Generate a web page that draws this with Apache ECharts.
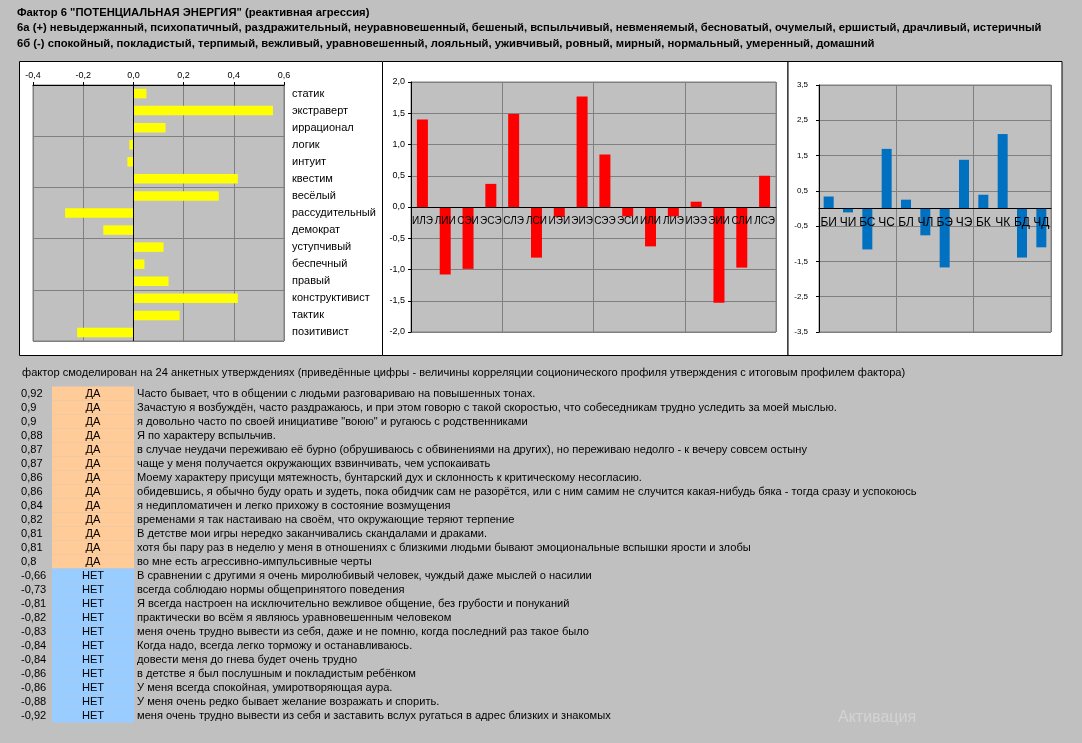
<!DOCTYPE html>
<html>
<head>
<meta charset="utf-8">
<script src="https://cdn.jsdelivr.net/npm/echarts@6/dist/echarts.min.js"></script>
<style>
  html, body { margin: 0; padding: 0; background: #C0C0C0; }
  #main { width: 1082px; height: 743px; }
</style>
</head>
<body>
<div id="main"></div>
<script>
// --- data ---
var titleLines = [
  'Фактор 6 "ПОТЕНЦИАЛЬНАЯ ЭНЕРГИЯ" (реактивная агрессия)',
  '6а (+) невыдержанный, психопатичный, раздражительный, неуравновешенный, бешеный, вспыльчивый, невменяемый, бесноватый, очумелый, ершистый, драчливый, истеричный',
  '6б (-) спокойный, покладистый, терпимый, вежливый, уравновешенный, лояльный, уживчивый, ровный, мирный, нормальный, умеренный, домашний'
];

var traitNames = ['статик','экстраверт','иррационал','логик','интуит','квестим','весёлый','рассудительный','демократ','уступчивый','беспечный','правый','конструктивист','тактик','позитивист'];
var traitValues = [0.052, 0.556, 0.128, -0.016, -0.024, 0.416, 0.34, -0.272, -0.12, 0.12, 0.044, 0.14, 0.416, 0.184, -0.224];

var typeNames = ['ИЛЭ','ЛИИ','СЭИ','ЭСЭ','СЛЭ','ЛСИ','ИЭИ','ЭИЭ','СЭЭ','ЭСИ','ИЛИ','ЛИЭ','ИЭЭ','ЭИИ','СЛИ','ЛСЭ'];
var typeValues = [1.40, -1.08, -0.99, 0.37, 1.49, -0.81, -0.16, 1.77, 0.84, -0.15, -0.63, -0.15, 0.085, -1.53, -0.97, 0.50];

var funcNames = ['БИ','ЧИ','БС','ЧС','БЛ','ЧЛ','БЭ','ЧЭ','БК','ЧК','БД','ЧД'];
var funcValues = [0.34, -0.11, -1.16, 1.69, 0.25, -0.76, -1.67, 1.38, 0.39, 2.11, -1.39, -1.10];

var noteText = 'фактор смоделирован на 24 анкетных утверждениях (приведённые цифры - величины корреляции соционического профиля утверждения с итоговым профилем фактора)';

var corrValues = [0.92, 0.9, 0.9, 0.88, 0.87, 0.87, 0.86, 0.86, 0.84, 0.82, 0.81, 0.81, 0.8,
  -0.66, -0.73, -0.81, -0.82, -0.83, -0.84, -0.84, -0.86, -0.86, -0.88, -0.92];
var answers = ['ДА','ДА','ДА','ДА','ДА','ДА','ДА','ДА','ДА','ДА','ДА','ДА','ДА',
  'НЕТ','НЕТ','НЕТ','НЕТ','НЕТ','НЕТ','НЕТ','НЕТ','НЕТ','НЕТ','НЕТ'];
var statements = [
  'Часто бывает, что в общении с людьми разговариваю на повышенных тонах.',
  'Зачастую я возбуждён, часто раздражаюсь, и при этом говорю с такой скоростью, что собеседникам трудно уследить за моей мыслью.',
  'я довольно часто по своей инициативе "воюю" и ругаюсь с родственниками',
  'Я по характеру вспыльчив.',
  'в случае неудачи переживаю её бурно (обрушиваюсь с обвинениями на других), но переживаю недолго - к вечеру совсем остыну',
  'чаще у меня получается окружающих взвинчивать, чем успокаивать',
  'Моему характеру присущи мятежность, бунтарский дух и склонность к критическому несогласию.',
  'обидевшись, я обычно буду орать и зудеть, пока обидчик сам не разорётся, или с ним самим не случится какая-нибудь бяка - тогда сразу и успокоюсь',
  'я недипломатичен и легко прихожу в состояние возмущения',
  'временами я так настаиваю на своём, что окружающие теряют терпение',
  'В детстве мои игры нередко заканчивались скандалами и драками.',
  'хотя бы пару раз в неделю у меня в отношениях с близкими людьми бывают эмоциональные вспышки ярости и злобы',
  'во мне есть агрессивно-импульсивные черты',
  'В сравнении с другими я очень миролюбивый человек, чуждый даже мыслей о насилии',
  'всегда соблюдаю нормы общепринятого поведения',
  'Я всегда настроен на исключительно вежливое общение, без грубости и понуканий',
  'практически во всём я являюсь уравновешенным человеком',
  'меня очень трудно вывести из себя, даже и не помню, когда последний раз такое было',
  'Когда надо, всегда легко торможу и останавливаюсь.',
  'довести меня до гнева будет очень трудно',
  'в детстве я был послушным и покладистым ребёнком',
  'У меня всегда спокойная, умиротворяющая аура.',
  'У меня очень редко бывает желание возражать и спорить.',
  'меня очень трудно вывести из себя и заставить вслух ругаться в адрес близких и знакомых'
];

var FONT = '"Liberation Sans", Arial, sans-serif';

function comma(v) {
  return v.toFixed(1).replace('.', ',');
}

var chart = echarts.init(document.getElementById('main'));

// frames, headings and the table below the charts
var graphics = [];
graphics.push({ type: 'rect', z: -10, shape: { x: 19.5, y: 61.5, width: 363, height: 294 }, style: { fill: '#fff', stroke: '#000', lineWidth: 1 } });
graphics.push({ type: 'rect', z: -10, shape: { x: 382.5, y: 61.5, width: 405.5, height: 294 }, style: { fill: '#fff', stroke: '#000', lineWidth: 1 } });
graphics.push({ type: 'rect', z: -10, shape: { x: 788, y: 61.5, width: 274, height: 294 }, style: { fill: '#fff', stroke: '#000', lineWidth: 1 } });

for (var t = 0; t < titleLines.length; t++) {
  graphics.push({ type: 'text', style: { text: titleLines[t], x: 17, y: 13 + t * 15.2, font: 'bold 11.25px ' + FONT, fill: '#000', verticalAlign: 'middle', textVerticalAlign: 'middle' } });
}
graphics.push({ type: 'text', style: { text: noteText, x: 22, y: 373, font: '11.1px ' + FONT, fill: '#000', verticalAlign: 'middle', textVerticalAlign: 'middle' } });

var rowTop = 386.5, rowH = 14;
for (var i = 0; i < corrValues.length; i++) {
  var cy = rowTop + rowH * i + rowH / 2;
  var yes = answers[i] === 'ДА';
  graphics.push({ type: 'rect', z: -5, shape: { x: 52, y: rowTop + rowH * i, width: 82, height: rowH }, style: { fill: yes ? '#FFCC99' : '#99CCFF', lineWidth: 0 } });
  graphics.push({ type: 'text', style: { text: String(corrValues[i]).replace('.', ','), x: 21, y: cy, font: '11.1px ' + FONT, fill: '#000', verticalAlign: 'middle', textVerticalAlign: 'middle' } });
  graphics.push({ type: 'text', style: { text: answers[i], x: 93, y: cy, font: '11.1px ' + FONT, fill: '#000', align: 'center', textAlign: 'center', verticalAlign: 'middle', textVerticalAlign: 'middle' } });
  graphics.push({ type: 'text', style: { text: statements[i], x: 137, y: cy, font: '11.1px ' + FONT, fill: '#000', verticalAlign: 'middle', textVerticalAlign: 'middle' } });
}
graphics.push({ type: 'text', style: { text: 'Активация', x: 838, y: 718, font: '16px ' + FONT, fill: '#D3D3D3', verticalAlign: 'middle', textVerticalAlign: 'middle' } });

var gridStyle = { show: true, backgroundColor: '#C0C0C0', borderColor: '#808080', borderWidth: 1, containLabel: false };
var gray = { lineStyle: { color: '#808080', width: 1 } };

// category axes sit on the zero line: offset up from the grid bottom by half the plot height
var options = {
  animation: false,
  textStyle: { fontFamily: FONT },
  graphic: graphics,
  grid: [
    Object.assign({ left: 33, top: 85, width: 251, height: 256 }, gridStyle),
    Object.assign({ left: 411, top: 82, width: 365, height: 250 }, gridStyle),
    Object.assign({ left: 819, top: 85, width: 232, height: 247 }, gridStyle)
  ],
  xAxis: [
    {
      type: 'value', gridIndex: 0, position: 'top',
      min: -0.4, max: 0.6, interval: 0.2,
      axisLine: { show: true, lineStyle: { color: '#000' } },
      axisTick: { show: true, length: 3, lineStyle: { color: '#000' } },
      axisLabel: { fontSize: 9, color: '#000', margin: 5, formatter: comma },
      splitLine: gray
    },
    {
      type: 'category', gridIndex: 1, data: typeNames, z: 5,
      position: 'bottom', offset: -125,
      axisLine: { onZero: false, lineStyle: { color: '#000' } },
      axisTick: { show: false },
      axisLabel: { fontSize: 10, color: '#000', margin: 9, interval: 0 },
      splitLine: { show: true, interval: function (i) { return i > 0 && i % 4 === 0; }, lineStyle: { color: '#808080' } }
    },
    {
      type: 'category', gridIndex: 2, data: funcNames, z: 5,
      position: 'bottom', offset: -123.5,
      axisLine: { onZero: false, lineStyle: { color: '#000' } },
      axisTick: { show: false },
      axisLabel: { fontSize: 12, color: '#000', margin: 8, interval: 0 },
      splitLine: { show: true, interval: function (i) { return i > 0 && i % 4 === 0; }, lineStyle: { color: '#808080' } }
    }
  ],
  yAxis: [
    {
      type: 'category', gridIndex: 0, data: traitNames, inverse: true, position: 'right',
      axisLine: { show: false },
      axisTick: { show: false },
      axisLabel: { fontSize: 11, color: '#000', align: 'left', margin: 8, interval: 0 },
      splitLine: { show: true, interval: function (i) { return i % 3 === 0; }, lineStyle: { color: '#808080' } }
    },
    {
      type: 'value', gridIndex: 1, min: -2, max: 2, interval: 0.5,
      axisLine: { show: true, lineStyle: { color: '#000' } },
      axisTick: { show: true, length: 3, lineStyle: { color: '#000' } },
      axisLabel: { fontSize: 9, color: '#000', margin: 6, formatter: comma },
      splitLine: gray
    },
    {
      type: 'value', gridIndex: 2, min: -3.5, max: 3.5, interval: 1,
      axisLine: { show: true, lineStyle: { color: '#000' } },
      axisTick: { show: true, length: 3, lineStyle: { color: '#000' } },
      axisLabel: { fontSize: 8, color: '#000', margin: 11, formatter: comma },
      splitLine: gray
    }
  ],
  series: [
    {
      type: 'bar', xAxisIndex: 0, yAxisIndex: 0, data: traitValues,
      barWidth: 9.5, itemStyle: { color: '#FFFF00' },
      markLine: {
        silent: true, symbol: 'none', label: { show: false },
        lineStyle: { color: '#000', type: 'solid', width: 1 },
        data: [{ xAxis: 0 }]
      }
    },
    {
      type: 'bar', xAxisIndex: 1, yAxisIndex: 1, data: typeValues,
      barWidth: 11, itemStyle: { color: '#FF0000' }
    },
    {
      type: 'bar', xAxisIndex: 2, yAxisIndex: 2, data: funcValues,
      barWidth: 10, itemStyle: { color: '#0070C0' }
    }
  ]
};

chart.setOption(options);
</script>
</body>
</html>
